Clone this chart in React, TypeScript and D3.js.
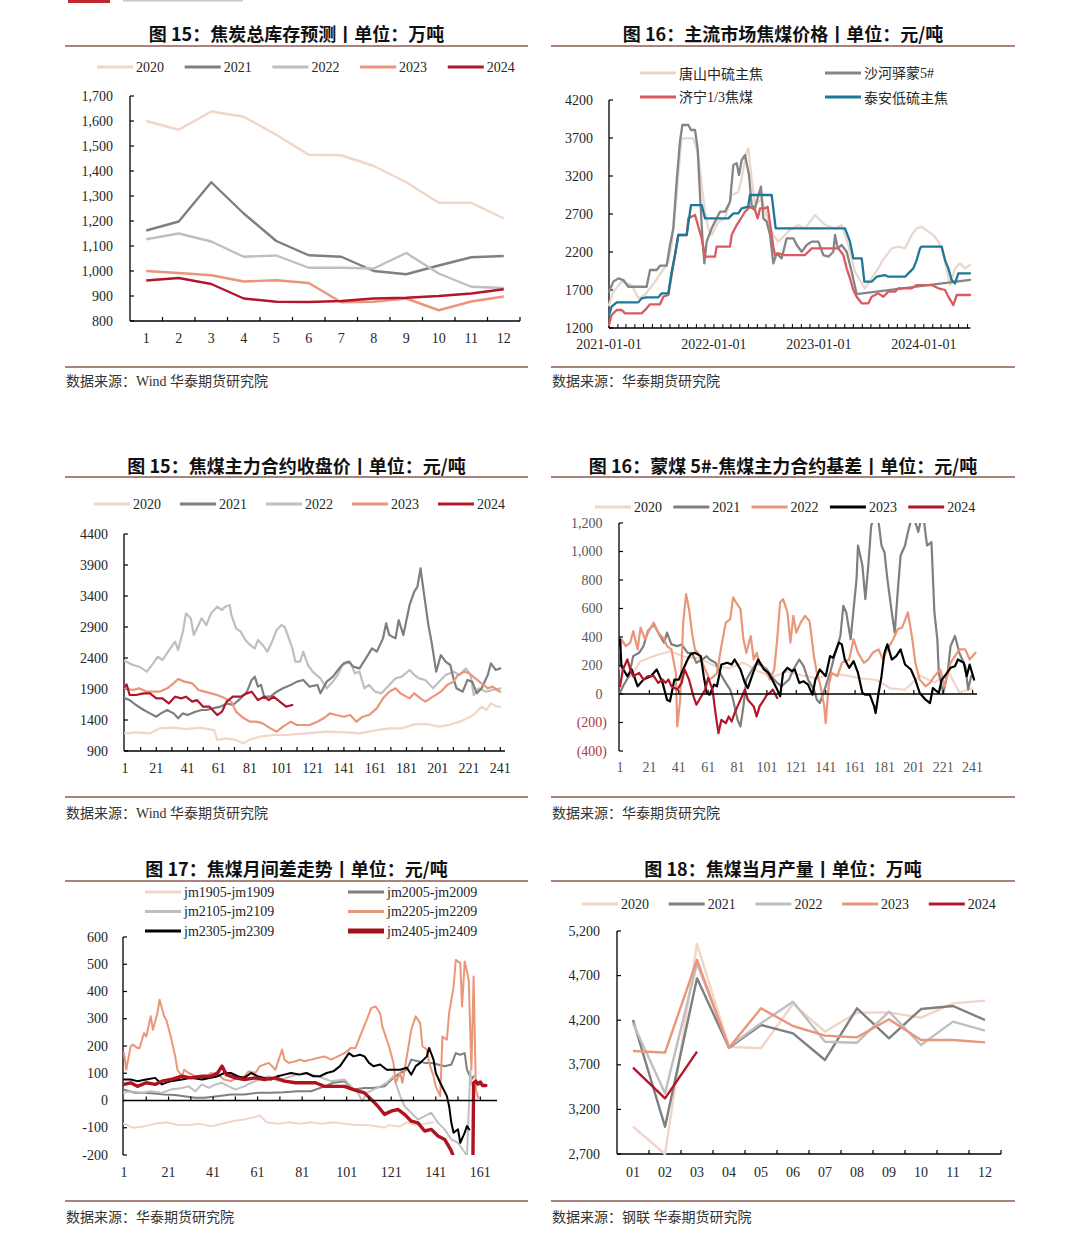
import React from 'react';
import * as d3 from 'd3';

type Pt = [number, number];

const SERIF = "'Liberation Serif','Times New Roman',serif";
const CJK = "'Noto Sans CJK SC','Noto Sans CJK JP',sans-serif";
const MIX = "'Liberation Serif','Noto Sans CJK SC',serif";

const C2020 = '#f1d5c7';
const C2021 = '#7f7f7f';
const C2022 = '#bfbfbf';
const C2023 = '#ea967a';
const C2024 = '#b3162b';
const RULE = '#a8857c';
const TXT = '#262626';

// ---------- Panel 1: 焦炭总库存预测 ----------
const P1_MONTHS = ['1', '2', '3', '4', '5', '6', '7', '8', '9', '10', '11', '12'];
const P1_2020 = [1600, 1565, 1638, 1617, 1545, 1465, 1463, 1420, 1355, 1273, 1273, 1210];
const P1_2021 = [1162, 1198, 1355, 1230, 1120, 1063, 1057, 1000, 987, 1022, 1055, 1060];
const P1_2022 = [1127, 1150, 1118, 1057, 1062, 1013, 1013, 1010, 1072, 990, 937, 932];
const P1_2023 = [1000, 992, 983, 958, 963, 952, 875, 877, 890, 843, 878, 898];
const P1_2024 = [962, 972, 948, 890, 877, 876, 880, 890, 893, 900, 910, 927];
const P1_TICKS = [800, 900, 1000, 1100, 1200, 1300, 1400, 1500, 1600, 1700];

// ---------- Panel 2: 主流市场焦煤价格 (x = months since 2021-01-01) ----------
const P2_TANGSHAN: Pt[] = [[0, 1500], [0.5, 1678], [1.45, 1810], [2.59, 1765], [3.35, 1590], [4.11, 1634], [5.26, 1810], [6.02, 1940], [6.78, 2070], [7.16, 2290], [7.73, 2950], [8.11, 3476], [8.3, 3695], [9.64, 3695], [10.21, 3476], [10.59, 3080], [10.97, 2730], [11.35, 2510], [11.73, 2424], [12.5, 2600], [13.26, 2640], [14.02, 2950], [14.78, 2990], [15.16, 3170], [15.73, 3520], [15.92, 3564], [16.3, 3170], [16.69, 2820], [17.45, 2906], [18.21, 2600], [18.78, 2424], [19.35, 2336], [20.11, 2424], [20.88, 2510], [21.64, 2555], [22.4, 2510], [23.54, 2687], [24.69, 2555], [25.83, 2510], [26.59, 2555], [27.35, 2290], [28.11, 1940], [29.26, 1720], [30.78, 1985], [31.16, 2070], [32.3, 2248], [33.07, 2270], [33.83, 2248], [34.59, 2424], [35.16, 2511], [35.73, 2533], [36.5, 2467], [37.07, 2424], [37.64, 2336], [38.02, 2250], [38.4, 2070], [38.97, 1765], [39.54, 1985], [40.11, 2050], [40.69, 1985], [41.26, 2029]];
const P2_SHAHE: Pt[] = [[0, 1678], [0.5, 1810], [1.07, 1853], [1.64, 1831], [2.21, 1743], [4.3, 1743], [4.69, 1963], [5.45, 1963], [5.83, 2020], [6.59, 2020], [6.97, 2292], [7.35, 2511], [7.73, 3125], [8.11, 3652], [8.38, 3871], [9.07, 3871], [9.37, 3805], [9.83, 3805], [10.13, 3564], [10.4, 2950], [10.7, 2336], [10.9, 2050], [11.16, 2336], [11.73, 2511], [12.3, 2643], [12.69, 2730], [13.26, 2730], [13.83, 2862], [14.21, 3345], [14.59, 3367], [14.86, 3213], [15.16, 3410], [15.54, 3476], [16.0, 3213], [16.3, 2818], [16.69, 2774], [17.07, 2950], [17.37, 3060], [17.64, 2643], [18.02, 2600], [18.4, 2424], [18.78, 2050], [19.16, 2182], [19.73, 2116], [20.3, 2380], [21.07, 2380], [21.45, 2292], [22.02, 2204], [22.59, 2292], [23.16, 2336], [23.92, 2336], [24.5, 2160], [25.07, 2138], [25.64, 2204], [25.83, 2424], [26.13, 2248], [26.59, 2292], [27.16, 2204], [27.73, 1940], [28.3, 1647], [41.26, 1832]];
const P2_JINING: Pt[] = [[0, 1240], [0.3, 1371], [0.88, 1437], [1.45, 1437], [1.83, 1393], [3.73, 1393], [4.3, 1459], [4.69, 1511], [5.83, 1511], [6.21, 1612], [6.78, 1634], [7.16, 1897], [7.54, 2160], [7.92, 2424], [8.88, 2424], [9.07, 2643], [9.83, 2687], [10.21, 2533], [10.59, 2380], [10.97, 2138], [12.11, 2138], [12.3, 2270], [13.83, 2270], [14.02, 2424], [14.59, 2555], [14.97, 2621], [15.54, 2730], [16.11, 2796], [16.69, 2752], [16.99, 2643], [17.26, 2774], [17.83, 2774], [18.13, 2796], [18.4, 2577], [18.78, 2270], [18.97, 2160], [19.35, 2182], [20.11, 2160], [22.4, 2160], [23.16, 2248], [26.21, 2248], [26.78, 2160], [27.16, 1985], [27.54, 1853], [27.92, 1700], [28.3, 1612], [28.88, 1525], [29.64, 1525], [30.02, 1612], [30.78, 1656], [31.35, 1612], [31.92, 1678], [32.69, 1678], [33.07, 1722], [34.59, 1722], [35.16, 1765], [36.88, 1765], [37.64, 1722], [38.4, 1700], [38.78, 1612], [39.35, 1502], [39.73, 1634], [41.26, 1634]];
const P2_TAIAN: Pt[] = [[0, 1371], [0.3, 1481], [0.88, 1537], [3.35, 1537], [3.73, 1590], [4.3, 1603], [5.64, 1603], [6.02, 1656], [6.78, 1656], [7.16, 1940], [7.54, 2160], [7.92, 2424], [8.88, 2424], [9.37, 2818], [10.59, 2818], [10.97, 2643], [13.64, 2643], [14.21, 2709], [14.78, 2709], [15.16, 2774], [15.92, 2796], [16.11, 2950], [18.59, 2950], [19.05, 2511], [26.97, 2511], [27.54, 2336], [27.92, 2116], [28.88, 2116], [29.18, 1809], [30.02, 1809], [30.59, 1875], [31.54, 1897], [31.92, 1875], [33.83, 1875], [34.21, 1919], [34.78, 1985], [35.16, 2094], [35.54, 2248], [35.73, 2270], [38.02, 2270], [38.4, 2094], [38.78, 1985], [39.16, 1831], [39.54, 1787], [39.92, 1919], [41.26, 1919]];
const P2_TICKS = [1200, 1700, 2200, 2700, 3200, 3700, 4200];
const P2_YEARS = ['2021-01-01', '2022-01-01', '2023-01-01', '2024-01-01'];

// ---------- Panel 3: 焦煤主力合约收盘价 ----------
const P3_2020: Pt[] = [[1, 1185], [8, 1200], [17, 1185], [23, 1265], [32, 1276], [40, 1254], [49, 1276], [58, 1238], [60, 1077], [66, 1104], [72, 1077], [77, 1023], [80, 1077], [87, 1131], [96, 1158], [104, 1158], [117, 1185], [130, 1212], [143, 1200], [151, 1185], [162, 1238], [170, 1265], [178, 1265], [186, 1330], [194, 1335], [202, 1292], [208, 1319], [215, 1373], [222, 1453], [225, 1507], [229, 1615], [232, 1561], [235, 1668], [239, 1615], [241, 1615]];
const P3_2021: Pt[] = [[1, 1749], [4, 1722], [8, 1642], [13, 1561], [17, 1507], [21, 1453], [24, 1507], [28, 1561], [32, 1507], [35, 1427], [38, 1507], [41, 1480], [46, 1534], [50, 1561], [53, 1561], [57, 1588], [62, 1615], [66, 1668], [70, 1642], [75, 1749], [79, 1857], [82, 2046], [84, 2099], [86, 1938], [88, 1965], [90, 1776], [94, 1776], [98, 1857], [102, 1911], [107, 1965], [111, 2019], [115, 2046], [119, 1938], [124, 1965], [126, 1830], [130, 2019], [134, 2099], [138, 2233], [141, 2314], [144, 2341], [147, 2260], [151, 2233], [155, 2395], [159, 2556], [162, 2502], [166, 2717], [168, 2959], [170, 2771], [174, 2717], [176, 3013], [179, 2771], [183, 3255], [186, 3470], [188, 3551], [190, 3846], [192, 3470], [195, 2932], [197, 2663], [200, 2180], [203, 2448], [206, 2341], [209, 2287], [211, 2072], [213, 1911], [217, 1857], [220, 2046], [223, 2019], [226, 1830], [229, 1911], [233, 2126], [235, 2314], [238, 2207], [241, 2233]];
const P3_2022: Pt[] = [[1, 2352], [6, 2287], [10, 2260], [15, 2180], [19, 2314], [22, 2421], [25, 2368], [30, 2556], [33, 2663], [35, 2529], [38, 2825], [40, 3120], [43, 3040], [45, 2771], [48, 2932], [50, 3040], [53, 2932], [56, 3120], [60, 3228], [63, 3174], [65, 3228], [68, 3255], [69, 3094], [72, 2878], [75, 2825], [78, 2690], [81, 2610], [84, 2556], [86, 2690], [89, 2610], [92, 2502], [95, 2663], [98, 2852], [101, 2932], [103, 2905], [105, 2771], [108, 2556], [110, 2341], [113, 2341], [115, 2502], [118, 2287], [121, 2180], [126, 2072], [130, 1911], [134, 2019], [137, 2126], [140, 2287], [145, 2341], [148, 2153], [151, 2180], [154, 1911], [157, 1965], [161, 1857], [165, 1830], [170, 1965], [174, 2072], [178, 2099], [183, 2207], [186, 2126], [189, 2072], [193, 2046], [198, 1911], [202, 2019], [206, 2126], [211, 2180], [215, 2126], [219, 2233], [222, 2126], [224, 1803], [227, 1911], [232, 1857], [236, 1884], [241, 1911]];
const P3_2023: Pt[] = [[1, 1911], [6, 1884], [10, 1911], [15, 1857], [19, 1857], [23, 1857], [28, 1911], [32, 1991], [35, 2061], [39, 2019], [44, 1991], [48, 1884], [52, 1857], [56, 1830], [60, 1803], [65, 1749], [69, 1696], [72, 1534], [77, 1427], [81, 1373], [85, 1373], [89, 1346], [94, 1265], [98, 1212], [102, 1292], [107, 1373], [111, 1319], [115, 1319], [119, 1319], [124, 1373], [128, 1427], [132, 1507], [136, 1480], [141, 1453], [145, 1480], [149, 1373], [153, 1453], [157, 1480], [162, 1588], [166, 1749], [170, 1857], [174, 1911], [177, 1830], [183, 1749], [186, 1830], [190, 1749], [193, 1696], [198, 1776], [203, 1857], [207, 1965], [211, 2019], [214, 2126], [218, 2180], [221, 2153], [225, 2072], [229, 1991], [233, 1911], [236, 1938], [239, 1884], [241, 1857]];
const P3_2024: Pt[] = [[1, 1938], [2, 1975], [4, 1803], [8, 1803], [13, 1830], [17, 1830], [21, 1749], [25, 1749], [29, 1668], [33, 1776], [37, 1749], [40, 1776], [44, 1696], [47, 1722], [51, 1615], [55, 1615], [60, 1480], [63, 1534], [66, 1696], [70, 1776], [75, 1776], [79, 1830], [82, 1857], [86, 1722], [90, 1776], [93, 1722], [96, 1776], [100, 1696], [104, 1615], [108, 1642]];
const P3_TICKS = [900, 1400, 1900, 2400, 2900, 3400, 3900, 4400];
const P3_LABELS = [1, 21, 41, 61, 81, 101, 121, 141, 161, 181, 201, 221, 241];

// ---------- Panel 4: 蒙煤5#-焦煤主力合约基差 ----------
const P4_2020: Pt[] = [[1, 180], [8, 120], [15, 230], [25, 270], [35, 300], [45, 260], [55, 250], [65, 200], [75, 180], [85, 220], [95, 160], [105, 120], [115, 160], [125, 130], [135, 110], [145, 140], [155, 130], [165, 110], [175, 100], [185, 40], [195, 30], [205, 130], [215, 80], [225, 150], [232, 10], [241, 40]];
const P4_2021: Pt[] = [[1, 7], [3, 54], [7, 125], [10, 266], [14, 289], [17, 336], [20, 442], [24, 489], [27, 431], [31, 360], [33, 431], [36, 348], [40, 336], [43, 348], [47, 289], [50, 289], [53, 219], [57, 242], [60, 266], [62, 242], [66, 219], [69, 148], [73, 78], [76, 31], [78, -40], [81, -181], [83, -228], [85, -87], [87, 101], [91, 172], [94, 219], [98, 195], [101, 172], [104, 125], [108, 78], [111, 54], [116, 101], [119, 172], [123, 242], [126, 195], [129, 101], [133, 31], [135, -40], [137, -64], [141, 54], [144, 148], [147, 266], [151, 407], [153, 619], [155, 572], [158, 384], [160, 595], [162, 807], [163, 1042], [166, 901], [168, 666], [170, 901], [172, 1184], [175, 1254], [177, 1207], [179, 1042], [181, 995], [183, 807], [186, 572], [188, 431], [190, 713], [192, 972], [195, 1042], [197, 1137], [200, 1254], [202, 1207], [204, 1137], [206, 1231], [208, 1207], [210, 1042], [213, 1066], [215, 572], [217, 384], [218, 148], [221, 7], [224, 148], [226, 336], [229, 407], [232, 289], [236, 195], [238, 31], [240, 125]];
const P4_2022: Pt[] = [[1, 289], [2, 384], [5, 336], [8, 360], [10, 442], [13, 313], [15, 466], [18, 384], [20, 431], [24, 501], [27, 431], [31, 384], [33, 336], [36, 313], [39, 148], [40, -228], [42, -40], [44, 501], [46, 701], [48, 595], [50, 431], [52, 313], [54, 289], [57, 219], [59, 172], [62, 101], [65, 125], [67, 148], [70, 336], [73, 501], [76, 525], [78, 678], [80, 642], [83, 595], [85, 384], [87, 289], [90, 407], [92, 242], [94, 289], [96, 219], [100, 172], [103, 101], [106, 172], [108, 384], [110, 642], [112, 666], [115, 572], [117, 360], [119, 548], [121, 431], [124, 501], [127, 548], [130, 513], [133, 266], [135, 148], [137, 78], [140, -87], [141, -205], [143, 54], [145, 148], [149, 125], [152, 219], [157, 242], [160, 384], [163, 289], [167, 219], [170, 242], [173, 289], [177, 313], [180, 242], [183, 313], [187, 384], [190, 454], [193, 466], [197, 572], [200, 384], [202, 219], [205, 101], [209, 54], [212, 78], [215, 125], [219, 172], [222, 54], [226, 219], [229, 266], [232, 313], [236, 313], [239, 242], [243, 289]];
const P4_2023: Pt[] = [[1, 384], [2, 195], [6, 125], [9, 172], [13, 54], [17, 101], [22, 125], [26, 172], [30, 78], [33, -40], [35, -52], [38, 101], [41, 101], [43, 148], [47, 242], [49, 278], [52, 289], [56, 266], [58, 125], [60, 7], [62, -5], [65, 66], [67, 54], [70, 207], [74, 219], [77, 207], [79, 242], [83, 172], [86, 78], [88, 42], [92, 160], [95, 242], [99, 172], [102, 148], [104, 113], [108, 31], [110, -16], [112, 148], [115, 184], [118, 160], [120, 172], [123, 78], [126, 89], [129, 66], [132, -5], [134, 101], [137, 172], [141, 125], [144, 266], [146, 254], [150, 360], [152, 348], [154, 242], [157, 184], [160, 231], [163, 148], [166, 7], [168, -5], [171, -5], [174, -87], [175, -134], [177, 7], [179, 125], [181, 289], [183, 348], [186, 242], [189, 266], [192, 313], [195, 207], [199, 172], [202, 101], [205, 7], [209, -40], [212, -64], [214, 42], [218, 7], [220, 101], [222, 125], [226, 184], [229, 195], [231, 242], [235, 219], [237, 125], [239, 207], [242, 101]];
const P4_2024: Pt[] = [[1, 54], [3, 172], [6, 242], [8, 172], [10, 125], [14, 148], [17, 101], [20, 125], [24, 125], [27, 78], [30, 101], [32, 78], [34, 101], [36, 54], [40, 31], [43, 78], [45, 172], [48, 101], [51, -16], [53, -75], [55, -40], [59, 31], [61, 113], [64, 31], [66, -134], [68, -275], [70, -181], [73, -205], [75, -158], [77, -193], [79, -134], [81, -87], [83, -40], [86, 31], [88, -40], [92, -87], [94, -158], [96, -87], [99, -40], [101, -5], [103, 7], [105, 31], [108, -28]];
const P4_TICKS = [-400, -200, 0, 200, 400, 600, 800, 1000, 1200];

// ---------- Panel 5: 焦煤月间差走势 ----------
const P5_1905: Pt[] = [[1, -85], [5, -100], [10, -95], [15, -85], [20, -80], [25, -90], [30, -90], [35, -85], [40, -95], [45, -85], [50, -75], [55, -70], [60, -60], [62, -55], [65, -80], [70, -85], [75, -80], [80, -85], [85, -80], [90, -85], [95, -80], [100, -85], [105, -90], [110, -90], [115, -95], [118, -100], [120, -90], [125, -95], [128, -80], [132, -90], [136, -85], [140, -80]];
const P5_2005: Pt[] = [[1, 40], [6, 28], [10, 28], [15, 26], [19, 22], [24, 20], [28, 16], [33, 10], [37, 10], [43, 16], [49, 22], [55, 22], [61, 28], [67, 28], [73, 30], [79, 34], [85, 34], [91, 52], [95, 65], [100, 71], [104, 40], [109, 46], [113, 46], [118, 52], [122, 83], [125, 101], [128, 113], [130, 150], [133, 144], [136, 138], [139, 138], [142, 132], [145, 126], [148, 132], [150, 174], [152, 168], [154, 174], [155, 113], [157, 77], [158, 89]];
const P5_2105: Pt[] = [[1, 28], [4, 34], [9, 28], [13, 34], [18, 28], [22, 40], [27, 46], [30, 52], [33, 34], [36, 59], [39, 46], [42, 59], [45, 65], [48, 52], [51, 40], [55, 52], [58, 65], [66, 89], [70, 71], [76, 89], [82, 101], [88, 89], [94, 71], [100, 77], [103, 52], [106, 28], [108, -2], [110, 28], [113, 40], [116, 52], [119, 65], [122, 89], [125, 16], [127, -21], [130, -45], [133, -70], [136, -57], [139, -45], [142, -82], [145, -106], [148, -143], [151, -155], [154, -191], [155, -205], [156.5, 110], [157, 60]];
const P5_2205: Pt[] = [[1, 174], [2, 113], [4, 199], [5, 205], [7, 193], [8, 193], [10, 248], [11, 235], [13, 309], [14, 260], [16, 321], [17, 370], [19, 309], [20, 296], [22, 235], [24, 162], [25, 113], [27, 89], [28, 113], [30, 101], [33, 89], [35, 89], [37, 77], [40, 101], [43, 95], [46, 77], [49, 71], [52, 83], [55, 89], [57, 107], [60, 101], [62, 126], [64, 132], [66, 138], [69, 113], [70, 138], [72, 187], [73, 150], [75, 138], [78, 144], [80, 150], [82, 144], [85, 150], [88, 156], [91, 162], [94, 150], [97, 162], [100, 174], [103, 193], [105, 193], [107, 235], [110, 296], [112, 339], [114, 345], [116, 321], [117, 272], [119, 223], [120, 199], [122, 138], [123, 65], [125, 101], [126, 65], [128, 162], [130, 260], [132, 309], [134, 284], [135, 199], [137, 187], [138, 138], [140, 89], [141, 52], [143, 16], [144, 235], [146, 223], [147, 321], [149, 418], [150, 516], [152, 504], [152.8, 345], [154, 510], [155.8, 443], [157, 113], [158, 455], [159, 40], [160, 10]];
const P5_2305: Pt[] = [[1, 77], [4, 77], [7, 71], [11, 77], [15, 83], [18, 59], [22, 71], [27, 77], [31, 83], [36, 77], [40, 83], [43, 89], [46, 101], [49, 101], [52, 89], [55, 83], [58, 101], [61, 89], [64, 83], [67, 77], [70, 89], [73, 95], [76, 101], [80, 95], [83, 101], [86, 89], [89, 89], [92, 101], [95, 107], [98, 126], [101, 162], [102, 174], [104, 162], [107, 168], [109, 162], [111, 138], [113, 126], [116, 132], [119, 113], [122, 113], [125, 113], [128, 120], [130, 95], [132, 126], [134, 138], [137, 162], [138, 193], [140, 150], [141, 101], [143, 65], [146, 16], [147, -21], [148, -82], [149, -118], [151, -106], [152, -155], [154, -118], [155, -94], [156, -106]];
const P5_2405: Pt[] = [[1, 59], [4, 65], [7, 52], [11, 65], [15, 59], [18, 71], [22, 77], [27, 89], [31, 83], [36, 89], [40, 89], [43, 101], [45, 126], [47, 95], [51, 83], [55, 77], [60, 83], [64, 77], [69, 83], [73, 71], [78, 65], [82, 65], [87, 65], [91, 52], [95, 52], [100, 52], [104, 40], [109, 28], [112, 4], [115, -21], [118, -51], [121, -39], [124, -33], [127, -51], [130, -76], [133, -82], [136, -112], [139, -106], [142, -130], [145, -143], [148, -185], [150, -230], [154, -300], [157.6, -300], [158, 65], [159, 71], [160, 60], [161, 68], [162, 55], [163.5, 55]];
const P5_TICKS = [-200, -100, 0, 100, 200, 300, 400, 500, 600];
const P5_LABELS = [1, 21, 41, 61, 81, 101, 121, 141, 161];

// ---------- Panel 6: 焦煤当月产量 ----------
const P6_MONTHS = ['01', '02', '03', '04', '05', '06', '07', '08', '09', '10', '11', '12'];
const P6_2020 = [3006, 2700, 5054, 3903, 3885, 4382, 4071, 4285, 4288, 4228, 4389, 4419];
const P6_2021 = [4202, 3006, 4669, 3892, 4146, 4053, 3754, 4333, 3997, 4325, 4359, 4202];
const P6_2022 = [4165, 3380, 4837, 3903, 4165, 4408, 3959, 3948, 4296, 3922, 4184, 4083];
const P6_2023 = [3855, 3836, 4875, 3892, 4333, 4135, 4027, 4008, 4210, 3978, 3978, 3952];
const P6_2024 = [3668, 3324, 3847];
const P6_TICKS = [2700, 3200, 3700, 4200, 4700, 5200];

const YEARS = ['2020', '2021', '2022', '2023', '2024'];
const fmtComma = d3.format(',');

function Frame({ x0, x1, titleY, ruleY, bottomY, sourceY, title, source }: any) {
  return (
    <g>
      <text x={(x0 + x1) / 2} y={titleY} textAnchor="middle" dominantBaseline="central" fontFamily={CJK} fontWeight={700} fontSize={18} fill="#111">{title}</text>
      <line x1={x0} x2={x1} y1={ruleY} y2={ruleY} stroke={RULE} strokeWidth={2} />
      <line x1={x0} x2={x1} y1={bottomY} y2={bottomY} stroke={RULE} strokeWidth={2} />
      <text x={x0 + 1} y={sourceY} dominantBaseline="central" fontFamily={MIX} fontSize={14} fill="#333">{source}</text>
    </g>
  );
}

function LegendItem({ x, y, color, label, w = 36, sw = 3, font = SERIF }: any) {
  return (
    <g>
      <line x1={x} x2={x + w} y1={y} y2={y} stroke={color} strokeWidth={sw} />
      <text x={x + w + 3} y={y} dominantBaseline="central" fontFamily={font} fontSize={14} fill={TXT}>{label}</text>
    </g>
  );
}

function YAxis({ ax, y, ticks, fmt, labelX, top, bottom, fill }: any) {
  return (
    <g>
      <line x1={ax} x2={ax} y1={top} y2={bottom} stroke="#000" strokeWidth={1.3} />
      {ticks.map((t: number) => (
        <g key={t}>
          <line x1={ax} x2={ax + 4} y1={y(t)} y2={y(t)} stroke="#000" strokeWidth={1.2} />
          <text x={typeof labelX === 'function' ? labelX(t) : labelX} y={y(t)} textAnchor="end" dominantBaseline="central" fontFamily={SERIF} fontSize={14} fill={typeof fill === 'function' ? fill(t) : (fill || TXT)}>{fmt(t)}</text>
        </g>
      ))}
    </g>
  );
}

function Series({ data, x, y, color, w = 2.2, clip }: any) {
  const d = d3.line<Pt>().x((p) => x(p[0])).y((p) => y(p[1]))(data) || '';
  return <path d={d} fill="none" stroke={color} strokeWidth={w} strokeLinejoin="round" strokeLinecap="round" clipPath={clip ? `url(#${clip})` : undefined} />;
}

function BandYearPanel({ months, series, x0, x1, yTop, yBot, domain, ticks, labelX, xLabelY, legendX, legendStep, legendY }: any) {
  const x = d3.scaleBand<string>().domain(months).range([x0, x1]);
  const y = d3.scaleLinear().domain(domain).range([yBot, yTop]);
  const cx = (i: number) => (x(months[i]) as number) + x.bandwidth() / 2;
  const colors = [C2020, C2021, C2022, C2023, C2024];
  return (
    <g>
      {YEARS.map((yr, i) => (
        <LegendItem key={yr} x={legendX + i * legendStep} y={legendY} color={colors[i]} label={yr} />
      ))}
      <YAxis ax={x0} y={y} ticks={ticks} fmt={fmtComma} labelX={labelX} top={yTop} bottom={yBot} />
      <line x1={x0} x2={x1} y1={yBot} y2={yBot} stroke="#000" strokeWidth={1.3} />
      {months.map((m: string, i: number) => (
        <g key={m}>
          <line x1={(x(m) as number) + x.bandwidth()} x2={(x(m) as number) + x.bandwidth()} y1={yBot} y2={yBot - 4} stroke="#000" strokeWidth={1.2} />
          <text x={cx(i)} y={xLabelY} textAnchor="middle" dominantBaseline="central" fontFamily={SERIF} fontSize={14} fill={TXT}>{m}</text>
        </g>
      ))}
      {series.map((vals: number[], si: number) => {
        const d = d3.line<number>().x((_, i) => cx(i)).y((v) => y(v))(vals) || '';
        return <path key={si} d={d} fill="none" stroke={colors[si]} strokeWidth={2.4} strokeLinejoin="round" />;
      })}
    </g>
  );
}

function Panel2() {
  const base = new Date(2021, 0, 1);
  const toDate = (m: number) => new Date(base.getTime() + m * 30.4375 * 86400000);
  const end = toDate(41.3);
  const x = d3.scaleTime().domain([base, end]).range([609, 970.4]);
  const y = d3.scaleLinear().domain([1200, 4200]).range([328, 100]);
  const xm = (m: number) => x(toDate(m));
  const months = d3.timeMonth.range(base, end);
  const ser = [
    { data: P2_TANGSHAN, color: '#ead7cc' },
    { data: P2_SHAHE, color: '#858585' },
    { data: P2_JINING, color: '#d95b60' },
    { data: P2_TAIAN, color: '#1c7896' },
  ];
  return (
    <g>
      <LegendItem x={640} y={73} color="#ead7cc" label="唐山中硫主焦" font={CJK} />
      <LegendItem x={825} y={73} color="#858585" label="沙河驿蒙5#" font={MIX} />
      <LegendItem x={640} y={97} color="#d95b60" label="济宁1/3焦煤" font={MIX} />
      <LegendItem x={825} y={97} color="#1c7896" label="泰安低硫主焦" font={CJK} />
      <YAxis ax={609} y={y} ticks={P2_TICKS} fmt={(t: number) => String(t)} labelX={593} top={100} bottom={328} />
      <line x1={609} x2={970.4} y1={328} y2={328} stroke="#000" strokeWidth={1.3} />
      {months.map((m, i) => (
        <line key={i} x1={x(m)} x2={x(m)} y1={328} y2={324} stroke="#000" strokeWidth={1} />
      ))}
      {P2_YEARS.map((s) => (
        <text key={s} x={x(new Date(s + 'T00:00:00'))} y={344} textAnchor="middle" dominantBaseline="central" fontFamily={SERIF} fontSize={14} fill={TXT}>{s}</text>
      ))}
      {ser.map((s, i) => (
        <Series key={i} data={s.data} x={xm} y={y} color={s.color} w={2.3} />
      ))}
    </g>
  );
}

function Panel3() {
  const x = d3.scaleLinear().domain([1, 244]).range([125, 505]);
  const y = d3.scaleLinear().domain([900, 4400]).range([751, 534]);
  const colors = [C2020, C2021, C2022, C2023, C2024];
  const minor = d3.range(11, 242, 10);
  return (
    <g>
      {YEARS.map((yr, i) => (
        <LegendItem key={yr} x={94 + i * 86} y={504} color={colors[i]} label={yr} />
      ))}
      <YAxis ax={124} y={y} ticks={P3_TICKS} fmt={(t: number) => String(t)} labelX={108} top={534} bottom={751} />
      <line x1={124} x2={505} y1={751} y2={751} stroke="#000" strokeWidth={1.3} />
      {minor.map((t) => (
        <line key={t} x1={x(t)} x2={x(t)} y1={751} y2={747} stroke="#000" strokeWidth={1.2} />
      ))}
      {P3_LABELS.map((t) => (
        <text key={t} x={x(t)} y={768} textAnchor="middle" dominantBaseline="central" fontFamily={SERIF} fontSize={14} fill={TXT}>{t}</text>
      ))}
      <Series data={P3_2020} x={x} y={y} color={C2020} />
      <Series data={P3_2022} x={x} y={y} color={C2022} />
      <Series data={P3_2021} x={x} y={y} color={C2021} />
      <Series data={P3_2023} x={x} y={y} color={C2023} />
      <Series data={P3_2024} x={x} y={y} color={C2024} />
    </g>
  );
}

function Panel4() {
  const x = d3.scaleLinear().domain([1, 244]).range([620, 977]);
  const y = d3.scaleLinear().domain([-400, 1200]).range([751, 523]);
  const colors = [C2020, C2021, C2023, '#000000', C2024];
  const fmt = (t: number) => (t < 0 ? `(${fmtComma(-t)})` : fmtComma(t));
  const ticksX = d3.range(21, 242, 20);
  return (
    <g>
      <defs>
        <clipPath id="cp4"><rect x={619} y={523} width={362} height={230} /></clipPath>
      </defs>
      {YEARS.map((yr, i) => (
        <LegendItem key={yr} x={595 + i * 78.3} y={507} color={colors[i]} label={yr} />
      ))}
      <YAxis ax={619} y={y} ticks={P4_TICKS} fmt={fmt} labelX={(t: number) => (t < 0 ? 607 : 602.5)} top={523} bottom={751} fill={(t: number) => (t < 0 ? '#b03a3a' : '#595959')} />
      {P3_LABELS.map((t) => (
        <text key={t} x={x(t)} y={767} textAnchor="middle" dominantBaseline="central" fontFamily={SERIF} fontSize={14} fill="#595959">{t}</text>
      ))}
      <Series data={P4_2020} x={x} y={y} color={C2020} clip="cp4" />
      <Series data={P4_2021} x={x} y={y} color={C2021} clip="cp4" />
      <Series data={P4_2022} x={x} y={y} color={C2023} clip="cp4" />
      <Series data={P4_2023} x={x} y={y} color="#000" clip="cp4" />
      <Series data={P4_2024} x={x} y={y} color={C2024} clip="cp4" />
      <line x1={619} x2={977} y1={y(0)} y2={y(0)} stroke="#000" strokeWidth={1.3} />
      {ticksX.map((t) => (
        <line key={t} x1={x(t)} x2={x(t)} y1={y(0)} y2={y(0) - 4} stroke="#000" strokeWidth={1.2} />
      ))}
    </g>
  );
}

function Panel5() {
  const x = d3.scaleLinear().domain([1, 168.5]).range([124, 497]);
  const y = d3.scaleLinear().domain([-200, 600]).range([1155, 937]);
  const legend = [
    { label: 'jm1905-jm1909', color: C2020, sw: 3 },
    { label: 'jm2005-jm2009', color: C2021, sw: 3 },
    { label: 'jm2105-jm2109', color: C2022, sw: 3 },
    { label: 'jm2205-jm2209', color: C2023, sw: 3 },
    { label: 'jm2305-jm2309', color: '#000', sw: 3 },
    { label: 'jm2405-jm2409', color: '#a0141f', sw: 5 },
  ];
  const ticksX = d3.range(11, 168, 10);
  return (
    <g>
      <defs>
        <clipPath id="cp5"><rect x={123} y={930} width={380} height={225} /></clipPath>
      </defs>
      {legend.map((l, i) => (
        <LegendItem key={l.label} x={i % 2 === 0 ? 145 : 348} y={892 + Math.floor(i / 2) * 19.5} color={l.color} label={l.label} sw={l.sw} />
      ))}
      <YAxis ax={123} y={y} ticks={P5_TICKS} fmt={(t: number) => String(t)} labelX={108} top={937} bottom={1155} />
      {P5_LABELS.map((t) => (
        <text key={t} x={x(t)} y={1172} textAnchor="middle" dominantBaseline="central" fontFamily={SERIF} fontSize={14} fill={TXT}>{t}</text>
      ))}
      <Series data={P5_1905} x={x} y={y} color={C2020} w={2} clip="cp5" />
      <Series data={P5_2005} x={x} y={y} color={C2021} w={2} clip="cp5" />
      <Series data={P5_2105} x={x} y={y} color={C2022} w={2} clip="cp5" />
      <Series data={P5_2205} x={x} y={y} color={C2023} w={2} clip="cp5" />
      <Series data={P5_2305} x={x} y={y} color="#000" w={2} clip="cp5" />
      <Series data={P5_2405} x={x} y={y} color="#b0121f" w={3.4} clip="cp5" />
      <line x1={123} x2={497} y1={y(0)} y2={y(0)} stroke="#000" strokeWidth={1.3} />
      {ticksX.map((t) => (
        <line key={t} x1={x(t)} x2={x(t)} y1={y(0)} y2={y(0) - 4} stroke="#000" strokeWidth={1.2} />
      ))}
    </g>
  );
}

export default function App() {
  return (
    <svg width={1080} height={1243} viewBox="0 0 1080 1243" style={{ position: 'absolute', left: 0, top: 0, background: '#fff', display: 'block' }}>
      <rect x={0} y={0} width={1080} height={1243} fill="#fff" />
      {/* header remnants (logo strip at the very top) */}
      <rect x={68} y={0} width={42} height={3} fill="#c0282d" />
      <rect x={123} y={0} width={120} height={1.5} fill="#c8c8c8" />

      <Frame x0={65} x1={528} titleY={33} ruleY={46} bottomY={367} sourceY={381} title="图 15：焦炭总库存预测丨单位：万吨" source="数据来源：Wind  华泰期货研究院" />
      <Frame x0={551} x1={1015} titleY={33} ruleY={46} bottomY={367} sourceY={381} title="图 16：主流市场焦煤价格丨单位：元/吨" source="数据来源：华泰期货研究院" />
      <Frame x0={65} x1={528} titleY={465} ruleY={477} bottomY={797} sourceY={813} title="图 15：焦煤主力合约收盘价丨单位：元/吨" source="数据来源：Wind  华泰期货研究院" />
      <Frame x0={551} x1={1015} titleY={465} ruleY={477} bottomY={797} sourceY={813} title="图 16：蒙煤 5#-焦煤主力合约基差丨单位：元/吨" source="数据来源：华泰期货研究院" />
      <Frame x0={65} x1={528} titleY={868} ruleY={881} bottomY={1201} sourceY={1217} title="图 17：焦煤月间差走势丨单位：元/吨" source="数据来源：华泰期货研究院" />
      <Frame x0={551} x1={1015} titleY={868} ruleY={881} bottomY={1201} sourceY={1217} title="图 18：焦煤当月产量丨单位：万吨" source="数据来源：钢联  华泰期货研究院" />

      <BandYearPanel months={P1_MONTHS} series={[P1_2020, P1_2021, P1_2022, P1_2023, P1_2024]} x0={130} x1={520} yTop={96} yBot={321} domain={[800, 1700]} ticks={P1_TICKS} labelX={113} xLabelY={338} legendX={97} legendStep={87.7} legendY={67} />
      <Panel2 />
      <Panel3 />
      <Panel4 />
      <Panel5 />
      <BandYearPanel months={P6_MONTHS} series={[P6_2020, P6_2021, P6_2022, P6_2023, P6_2024]} x0={617} x1={1001} yTop={931} yBot={1154} domain={[2700, 5200]} ticks={P6_TICKS} labelX={600} xLabelY={1172} legendX={582} legendStep={86.7} legendY={904} />
    </svg>
  );
}
